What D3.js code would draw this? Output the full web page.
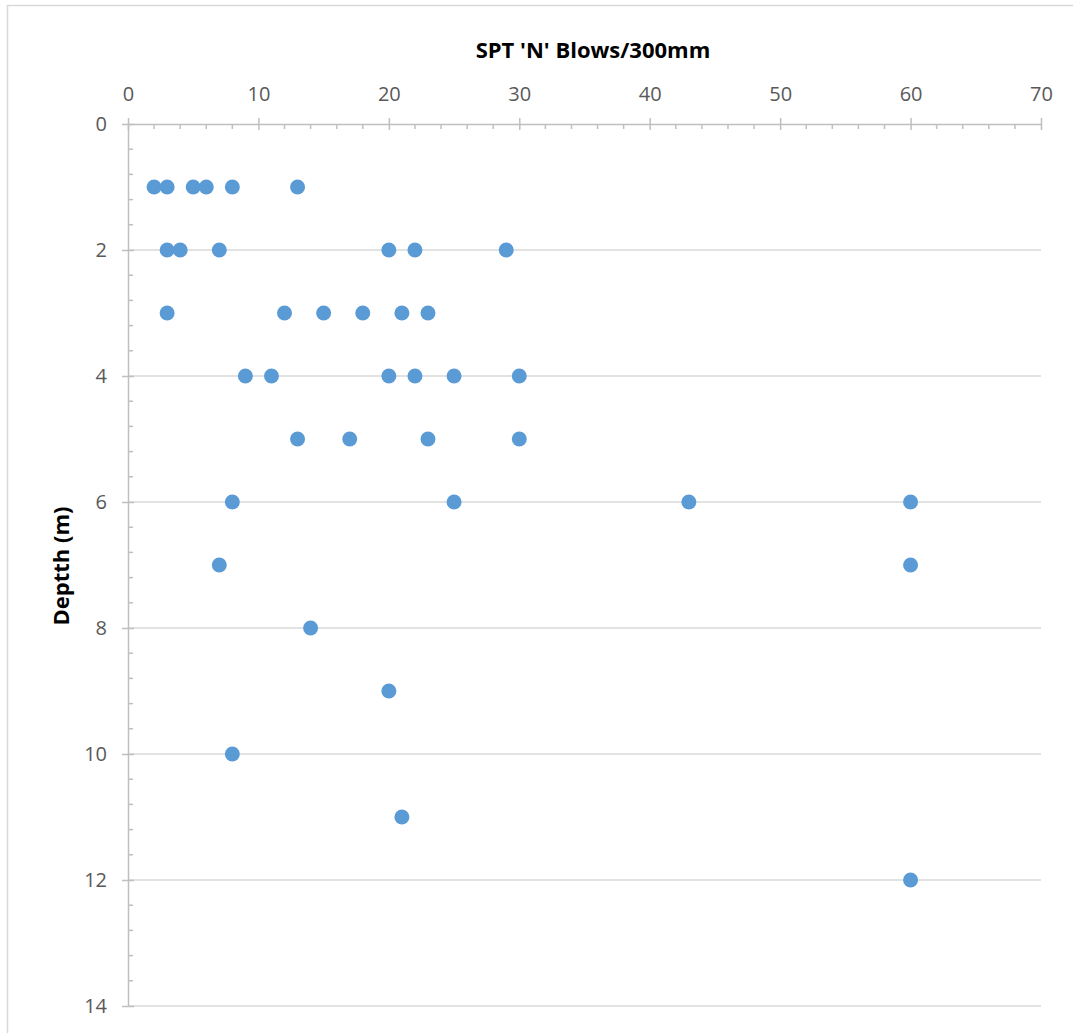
<!DOCTYPE html>
<html><head><meta charset="utf-8">
<script src="https://cdn.jsdelivr.net/npm/d3@7"></script>
<style>body{margin:0;background:#fff}svg{display:block}</style>
</head><body>
<svg id="c" width="1073" height="1033"></svg>
<script>
const depths = [1,1,1,1,1,1, 2,2,2,2,2,2, 3,3,3,3,3,3, 4,4,4,4,4,4, 5,5,5,5, 6,6,6,6, 7,7, 8, 9, 10, 11, 12];
const blows  = [2,3,5,6,8,13, 3,4,7,20,22,29, 3,12,15,18,21,23, 9,11,20,22,25,30, 13,17,23,30, 8,25,43,60, 7,60, 14, 20, 8, 21, 60];
const xTicks = [0,10,20,30,40,50,60,70];
const yTicks = [0,2,4,6,8,10,12,14];
const xTitle = "SPT 'N' Blows/300mm";
const yTitle = "Deptth (m)";

const svg = d3.select('#c');
const font = "'Open Sans', 'Liberation Sans', sans-serif";
const L = 128, R = 1041, T = 124, B = 1006;
const x = d3.scaleLinear().domain([0,70]).range([L,R]);
const y = d3.scaleLinear().domain([0,14]).range([T,B]);

svg.append('rect').attr('x',7.5).attr('y',5.5).attr('width',1100).attr('height',1100)
  .attr('fill','#fff').attr('stroke','#d9d9d9').attr('stroke-width',1.5);

// gridlines
svg.append('g').selectAll('line').data(yTicks.filter(d=>d>0)).join('line')
  .attr('x1',L).attr('x2',R).attr('y1',d=>y(d)).attr('y2',d=>y(d))
  .attr('stroke','#d9d9d9').attr('stroke-width',1.5);

// minor ticks
const xMinor = d3.range(0,70.01,2).filter(d=>d%10!==0);
const yMinor = d3.range(0,14.01,0.4).filter(d=>Math.abs(d/2-Math.round(d/2))>1e-6);

const ax = svg.append('g').attr('transform',`translate(0,${T})`)
  .call(d3.axisTop(x).tickValues(xTicks).tickSize(6).tickSizeOuter(0).tickPadding(17));
const ay = svg.append('g').attr('transform',`translate(${L},0)`)
  .call(d3.axisLeft(y).tickValues(yTicks).tickSize(6).tickSizeOuter(0).tickPadding(15));
[ax,ay].forEach(g=>{
  g.select('.domain').attr('stroke','#bfbfbf').attr('stroke-width',1.5);
  g.selectAll('.tick line').attr('stroke','#bfbfbf').attr('stroke-width',1.5);
  g.selectAll('.tick text').attr('fill','#595959').style('font-family',font).style('font-size','20px');
});
ax.selectAll('.tick line').attr('y1',6).attr('y2',-6);
ay.selectAll('.tick line').attr('x1',-6).attr('x2',6);
svg.append('g').selectAll('line').data(xMinor).join('line')
  .attr('x1',d=>x(d)).attr('x2',d=>x(d)).attr('y1',T).attr('y2',T+5)
  .attr('stroke','#bfbfbf').attr('stroke-width',1.5);
svg.append('g').selectAll('line').data(yMinor).join('line')
  .attr('x1',L).attr('x2',L+5).attr('y1',d=>y(d)).attr('y2',d=>y(d))
  .attr('stroke','#bfbfbf').attr('stroke-width',1.5);

// titles
svg.append('text').attr('x',593).attr('y',58).attr('text-anchor','middle')
  .style('font-family',font).style('font-weight','bold').style('font-size','22px').attr('fill','#000').text(xTitle);
svg.append('text').attr('transform',`translate(69,566) rotate(-90)`).attr('text-anchor','middle')
  .style('font-family',font).style('font-weight','bold').style('font-size','22px').attr('fill','#000').text(yTitle);

// points
svg.append('g').selectAll('circle').data(depths.map((d,i)=>({d,b:blows[i]}))).join('circle')
  .attr('cx',p=>x(p.b)).attr('cy',p=>y(p.d)).attr('r',7.5).attr('fill','#5b9bd5');
</script>
</body></html>
